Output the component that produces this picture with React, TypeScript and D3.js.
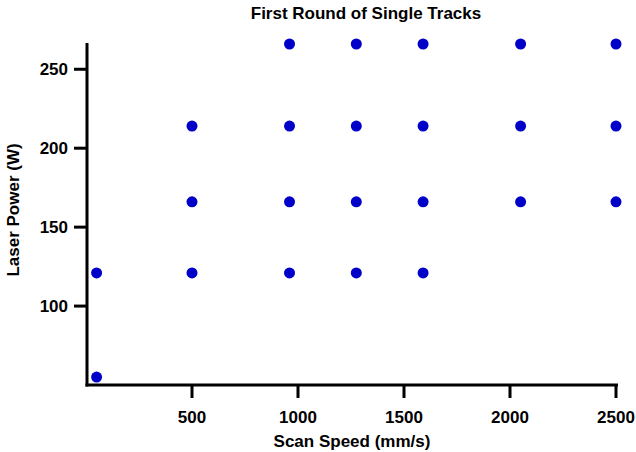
import React from "react";
import * as d3 from "d3";

const rowPowers = [266, 214, 166, 121, 55];
const rowSpeeds = [
  [960, 1275, 1590, 2050, 2500],
  [500, 960, 1275, 1590, 2050, 2500],
  [500, 960, 1275, 1590, 2050, 2500],
  [50, 500, 960, 1275, 1590],
  [50],
];
const xTicks = [500, 1000, 1500, 2000, 2500];
const yTicks = [100, 150, 200, 250];

const W = 636;
const H = 452;
const FONT = "Liberation Sans, Arial, sans-serif";

export default function App() {
  const x = d3.scaleLinear().domain([0, 2500]).range([86, 616]);
  const y = d3.scaleLinear().domain([50, 266]).range([385, 44]);
  const points: { sx: number; p: number }[] = [];
  rowPowers.forEach((p, i) => rowSpeeds[i].forEach((s) => points.push({ sx: s, p })));

  return (
    <svg width={W} height={H} style={{ position: "absolute", left: 0, top: 0, background: "#fff" }}>
      <text x={366} y={19} textAnchor="middle" fontFamily={FONT} fontWeight="bold" fontSize={17}>
        First Round of Single Tracks
      </text>
      {/* axes */}
      <line x1={87} x2={87} y1={43} y2={386.5} stroke="#000" strokeWidth={3} />
      <line x1={85.5} x2={618} y1={385} y2={385} stroke="#000" strokeWidth={3} />
      {xTicks.map((t) => (
        <g key={"x" + t}>
          <line x1={x(t)} x2={x(t)} y1={385} y2={398} stroke="#000" strokeWidth={3} />
          <text x={x(t)} y={423} textAnchor="middle" fontFamily={FONT} fontWeight="bold" fontSize={17}>
            {t}
          </text>
        </g>
      ))}
      {yTicks.map((t) => (
        <g key={"y" + t}>
          <line x1={74} x2={87} y1={y(t)} y2={y(t)} stroke="#000" strokeWidth={3} />
          <text x={68} y={y(t) + 6} textAnchor="end" fontFamily={FONT} fontWeight="bold" fontSize={17}>
            {t}
          </text>
        </g>
      ))}
      <text x={352} y={447} textAnchor="middle" fontFamily={FONT} fontWeight="bold" fontSize={17}>
        Scan Speed (mm/s)
      </text>
      <text
        transform={`translate(19,210) rotate(-90)`}
        textAnchor="middle"
        fontFamily={FONT}
        fontWeight="bold"
        fontSize={17}
      >
        Laser Power (W)
      </text>
      {points.map((d, i) => (
        <circle key={i} cx={x(d.sx)} cy={y(d.p)} r={5.5} fill="#0000c8" />
      ))}
    </svg>
  );
}
